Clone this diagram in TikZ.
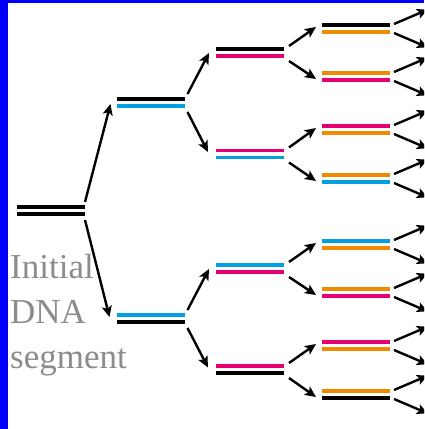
\documentclass[tikz,border=0pt]{standalone}
\usepackage{fontspec}
\setmainfont{Liberation Serif}
\usetikzlibrary{arrows.meta}
\definecolor{frameblue}{RGB}{0,0,250}
\definecolor{strandcyan}{RGB}{0,160,226}
\definecolor{strandmag}{RGB}{228,0,112}
\definecolor{strandorange}{RGB}{240,138,0}
\definecolor{labelgray}{RGB}{140,140,140}
\tikzset{
  pair/.style 2 args={minimum width=68pt, minimum height=7pt, inner sep=0pt, outer sep=0pt,
    append after command={
      (\tikzlastnode.north west) edge[draw=#1, line width=3.4pt, -] (\tikzlastnode.north east)
      (\tikzlastnode.south west) edge[draw=#2, line width=3.4pt, -] (\tikzlastnode.south east)}},
  arr/.style={line width=2.4pt, -{Stealth[length=11pt,width=10pt,inset=2.5pt]}},
  caption/.style={anchor=base west, inner sep=0pt, text=labelgray,
    font=\fontsize{35}{45}\selectfont}
}
\begin{document}
\begin{tikzpicture}[x=1pt,y=-1pt]
\useasboundingbox (0,0) rectangle (424,429);
\clip (0,0) rectangle (424,429);
\fill[white] (0,0) rectangle (424,429);
% frame edges
\fill[frameblue] (0,0) rectangle (7.5,429);
\fill[frameblue] (0,0) rectangle (424,3);

% generation 0
\node[pair={black}{black}] (g0) at (51,210.5) {};
% generation 1
\node[pair={black}{strandcyan}] (g1a) at (150.5,102.5) {};
\node[pair={strandcyan}{black}] (g1b) at (150.5,318.5) {};
% generation 2
\node[pair={black}{strandmag}] (g2a) at (250,52.5) {};
\node[pair={strandmag}{strandcyan}] (g2b) at (250,154) {};
\node[pair={strandcyan}{strandmag}] (g2c) at (250,268.5) {};
\node[pair={strandmag}{black}] (g2d) at (250,369.5) {};
% generation 3
\node[pair={black}{strandorange}] (g3a) at (356,28.5) {};
\node[pair={strandorange}{strandmag}] (g3b) at (356,76.5) {};
\node[pair={strandmag}{strandorange}] (g3c) at (356,129.5) {};
\node[pair={strandorange}{strandcyan}] (g3d) at (356,178.5) {};
\node[pair={strandcyan}{strandorange}] (g3e) at (356,244.5) {};
\node[pair={strandorange}{strandmag}] (g3f) at (356,292.5) {};
\node[pair={strandmag}{strandorange}] (g3g) at (356,345.5) {};
\node[pair={strandorange}{black}] (g3h) at (356,394.5) {};

% label
\node[caption] (l1) at (10,278) {Initial};
\node[caption] (l2) at (10,323) {DNA};
\node[caption] (l3) at (10,368) {segment};

% generation 0 -> 1
\draw[arr] ([shift={(0,-8.5)}]g0.east) -- ([shift={(-6,1.5)}]g1a.west);
\draw[arr] ([shift={(0,9.5)}]g0.east) -- ([shift={(-7,-1.5)}]g1b.west);
% generation 1 -> 2
\foreach \p/\u/\d in {g1a/g2a/g2b, g1b/g2c/g2d}{
  \draw[arr] ([shift={(3,-8.5)}]\p.east) -- ([shift={(-7,0.5)}]\u.west);
  \draw[arr] ([shift={(3,9.5)}]\p.east) -- ([shift={(-8,-2)}]\d.west);
}
% generation 2 -> 3
\foreach \p/\u/\d in {g2a/g3a/g3b, g2b/g3c/g3d, g2c/g3e/g3f, g2d/g3g/g3h}{
  \draw[arr] ([shift={(5,-6.5)}]\p.east) -- ([shift={(-6,-1.5)}]\u.west);
  \draw[arr] ([shift={(5,8.5)}]\p.east) -- ([shift={(-6,2.5)}]\d.west);
}
% generation 3 -> next (arrows run off the right edge)
\foreach \p in {g3a,g3b,g3c,g3d,g3e,g3f,g3g,g3h}{
  \coordinate (\p-up) at ([shift={(38,-19)}]\p.east);
  \coordinate (\p-dn) at ([shift={(38,19)}]\p.east);
  \draw[arr] ([shift={(4,-4.5)}]\p.east) -- (\p-up);
  \draw[arr] ([shift={(4,4.5)}]\p.east) -- (\p-dn);
}
\end{tikzpicture}
\end{document}
